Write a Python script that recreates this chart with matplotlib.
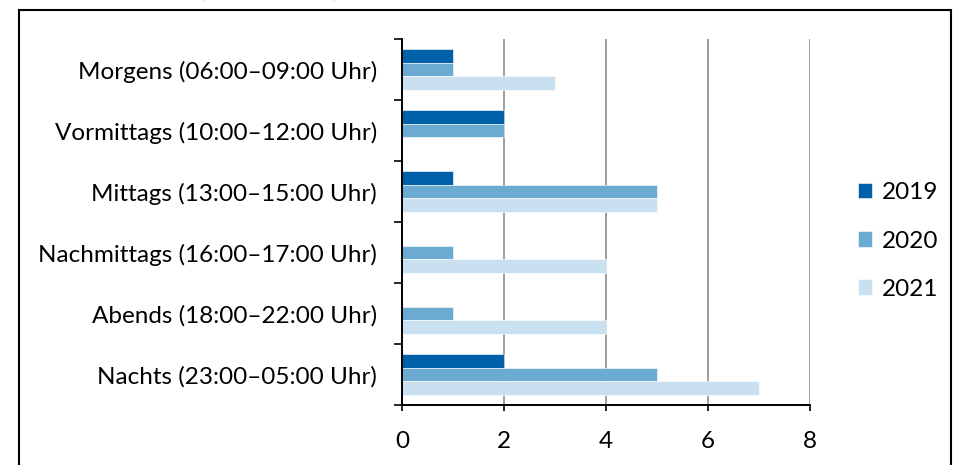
import matplotlib
matplotlib.use("Agg")
import matplotlib.pyplot as plt
import numpy as np
from matplotlib.patches import Rectangle
from matplotlib.ticker import FixedLocator

categories = [
    "Morgens (06:00–09:00 Uhr)",
    "Vormittags (10:00–12:00 Uhr)",
    "Mittags (13:00–15:00 Uhr)",
    "Nachmittags (16:00–17:00 Uhr)",
    "Abends (18:00–22:00 Uhr)",
    "Nachts (23:00–05:00 Uhr)",
]
years = ["2019", "2020", "2021"]
values_2019 = [1, 2, 1, 0, 0, 2]
values_2020 = [1, 2, 5, 1, 1, 5]
values_2021 = [3, 0, 5, 4, 4, 7]
x_ticks = [0, 2, 4, 6, 8]

colors = ["#0061A8", "#6BAAD1", "#C8E0EF"]

plt.rcParams["font.family"] = ["Lato", "DejaVu Sans"]
FS = 17.5

fig = plt.figure(figsize=(9.69, 4.65), dpi=100)
ax = fig.add_axes([402 / 969, 1 - 405 / 465, 408 / 969, 366 / 465])

n = len(categories)
pos = np.arange(n)
bar_h = 0.223
series = [values_2019, values_2020, values_2021]
for i, (vals, c, lab) in enumerate(zip(series, colors, years)):
    ax.barh(pos + (i - 1) * bar_h, vals, height=bar_h, color=c, label=lab,
            edgecolor="white", linewidth=0.4, zorder=3)

ax.set_ylim(n - 0.5, -0.5)
ax.set_xlim(0, 8)
ax.set_xticks(x_ticks)
ax.set_xticklabels([str(t) for t in x_ticks], fontsize=FS)

# boundary ticks on the category axis, labels centred between them
ax.yaxis.set_major_locator(FixedLocator(np.arange(-0.5, n, 1.0)))
ax.set_yticklabels([])
ax.set_yticks(pos, minor=True)
ax.set_yticklabels(categories, minor=True, fontsize=FS)
ax.tick_params(axis="y", which="minor", length=0, pad=18)
ax.tick_params(axis="y", which="major", length=6, width=1.2, direction="out")
ax.tick_params(axis="x", length=4.5, width=1.2, direction="out", pad=14)

ax.grid(axis="x", color="#8c8c8c", linewidth=1.2, zorder=0)
ax.set_axisbelow(True)
for s in ["top", "right"]:
    ax.spines[s].set_visible(False)
for s in ["left", "bottom"]:
    ax.spines[s].set_linewidth(1.4)
    ax.spines[s].set_color("black")
ax.spines["left"].set_zorder(4)

leg = fig.legend(loc="center left", bbox_to_anchor=(848 / 969, 1 - 241 / 465),
                 frameon=False, fontsize=FS, handlelength=0.6, handleheight=0.6,
                 handletextpad=0.4, labelspacing=1.12, borderaxespad=0)

# outer frame around the chart
fig.patches.append(Rectangle((19 / 969, -0.05), (951 - 19) / 969, 1.05 - 10 / 465,
                             transform=fig.transFigure, fill=False,
                             edgecolor="black", linewidth=1.5))

fig.text(270 / 969, 1.0 + 3 / 465, "(2019–2021)", ha="center", va="baseline",
         fontsize=FS)

fig.savefig("out.png", dpi=100)
